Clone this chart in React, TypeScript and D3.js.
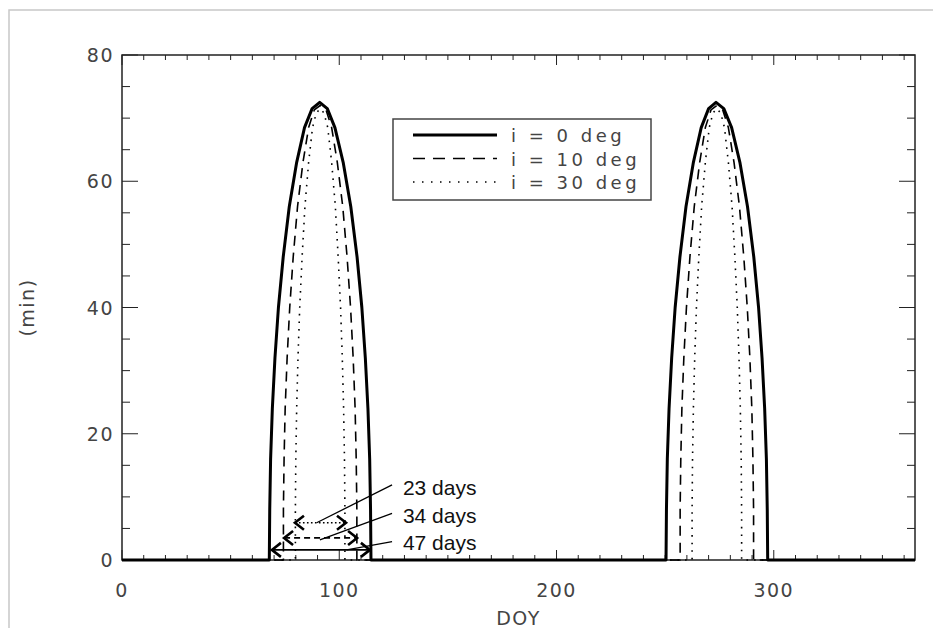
import React from 'react';
import * as d3 from 'd3';

// eclipse duration (min) vs day of year
const solid0: [number, number][] = [
  [0, 0], [67.8, 0], [68, 8], [68.4, 16], [69.2, 24], [70.4, 32], [72, 40], [74.2, 48], [77, 56],
  [80.4, 63], [84, 68.5], [87.5, 71.5], [91, 72.5], [94.5, 71.5], [98, 68.5], [101.8, 63],
  [105.3, 56], [108.2, 48], [110.4, 40], [112, 32], [113.2, 24], [114, 16], [114.4, 8], [114.6, 0],
  [250.4, 0], [250.6, 8], [251, 16], [251.8, 24], [253, 32], [254.6, 40], [256.8, 48], [259.6, 56],
  [263, 63], [266.6, 68.5], [270, 71.5], [273.4, 72.5], [277, 71.5], [280.6, 68.5], [284.4, 63],
  [287.9, 56], [290.8, 48], [293, 40], [294.6, 32], [295.8, 24], [296.6, 16], [297, 8], [297.2, 0],
  [365, 0],
];
const dashed10: [number, number][] = [
  [0, 0], [74.3, 0], [74.3, 8], [74.6, 16], [75.1, 24], [76, 32], [77.2, 40], [78.8, 48], [80.8, 56],
  [83.3, 63], [85.9, 68.5], [88.5, 71.3], [91.2, 72], [93.9, 71.3], [96.5, 68.5], [99.1, 63],
  [101.6, 56], [103.6, 48], [105.2, 40], [106.4, 32], [107.3, 24], [107.8, 16], [108.1, 8], [108.1, 0],
  [256.9, 0], [256.9, 8], [257.2, 16], [257.7, 24], [258.6, 32], [259.8, 40], [261.4, 48], [263.4, 56],
  [265.9, 63], [268.5, 68.5], [271.1, 71.3], [273.8, 72], [276.5, 71.3], [279.1, 68.5], [281.7, 63],
  [284.2, 56], [286.2, 48], [287.8, 40], [289, 32], [289.9, 24], [290.4, 16], [290.7, 8], [290.7, 0],
  [365, 0],
];
const dotted30: [number, number][] = [
  [0, 0], [79.8, 0], [79.8, 8], [80, 16], [80.4, 24], [81, 32], [81.8, 40], [82.9, 48], [84.2, 56],
  [85.9, 63], [87.7, 68.5], [89.4, 70.8], [91.2, 71.5], [93, 70.8], [94.7, 68.5], [96.5, 63],
  [98.2, 56], [99.5, 48], [100.6, 40], [101.4, 32], [102, 24], [102.4, 16], [102.6, 8], [102.6, 0],
  [262.4, 0], [262.4, 8], [262.6, 16], [263, 24], [263.6, 32], [264.4, 40], [265.5, 48], [266.8, 56],
  [268.5, 63], [270.3, 68.5], [272, 70.8], [273.8, 71.5], [275.6, 70.8], [277.3, 68.5], [279.1, 63],
  [280.8, 56], [282.1, 48], [283.2, 40], [284, 32], [284.6, 24], [285, 16], [285.2, 8], [285.2, 0],
  [365, 0],
];

const legendLabels = ['i = 0 deg', 'i = 10 deg', 'i = 30 deg'];
const xTicks = [0, 100, 200, 300];
const yTicks = [0, 20, 40, 60, 80];

// width annotations: [from DOY, to DOY, at value]
const spans: [number, number, number][] = [
  [79.6, 103.1, 5.9],
  [74.6, 108.2, 3.5],
  [69, 114.1, 1.6],
];
const spanLabels = ['23 days', '34 days', '47 days'];
const labelPos: [number, number][] = [[129.3, 10.3], [129.3, 5.9], [129.3, 1.6]];
const leaderFrom: [number, number][] = [[124.3, 11.9], [124.3, 7.4], [124.3, 2.9]];
const leaderTo: [number, number][] = [[89.6, 5.9], [91.1, 3.2], [103.4, 1.6]];

const styles = [
  { width: 3, dash: undefined as string | undefined },
  { width: 1.6, dash: '10,7' },
  { width: 1.6, dash: '1.6,6' },
];

export default function App() {
  const W = 933, H = 628;
  const left = 122, right = 915, top = 55, bottom = 560;
  const x = d3.scaleLinear().domain([0, 365]).range([left, right]);
  const y = d3.scaleLinear().domain([0, 80]).range([bottom, top]);
  const line = d3.line<[number, number]>().x(d => x(d[0])).y(d => y(d[1]));
  const series = [solid0, dashed10, dotted30];

  const xMinor = d3.range(0, 366, 10);
  const yMinor = d3.range(0, 81, 5);
  const tickFont = { fontFamily: 'DejaVu Sans', fontSize: 19, fill: '#444', letterSpacing: 1.5 };

  const arrowHead = (px: number, py: number, dir: number) =>
    `M${px + dir * 9},${py - 7}L${px},${py}L${px + dir * 9},${py + 7}`;

  return (
    <div style={{ position: 'fixed', left: 0, top: 0 }}>
      <svg width={W} height={H} style={{ display: 'block', background: '#fff' }}>
        {/* frame of the scanned figure */}
        <path d={`M9,${H}V10H${W}`} fill="none" stroke="#c8c8c8" strokeWidth={1.5} />

        {/* minor ticks */}
        {xMinor.map(t => {
          const len = t % 100 === 0 ? 10 : 5;
          return (
            <g key={'xm' + t} stroke="#222" strokeWidth={1}>
              <line x1={x(t)} x2={x(t)} y1={bottom} y2={bottom - len} />
              <line x1={x(t)} x2={x(t)} y1={top} y2={top + len} />
            </g>
          );
        })}
        {yMinor.map(t => {
          const len = t % 20 === 0 ? 16 : 8;
          return (
            <g key={'ym' + t} stroke="#222" strokeWidth={1}>
              <line x1={left} x2={left + len} y1={y(t)} y2={y(t)} />
              <line x1={right} x2={right - len} y1={y(t)} y2={y(t)} />
            </g>
          );
        })}

        <rect x={left} y={top} width={right - left} height={bottom - top} fill="none" stroke="#222" strokeWidth={1.5} />

        {xTicks.map(t => (
          <text key={'xl' + t} x={x(t)} y={597} textAnchor="middle" {...tickFont}>{t}</text>
        ))}
        {yTicks.map(t => (
          <text key={'yl' + t} x={114} y={y(t) + 7} textAnchor="end" {...tickFont}>{t}</text>
        ))}
        <text x={(left + right) / 2} y={625} textAnchor="middle" {...tickFont}>DOY</text>
        <text transform={`translate(34,${(top + bottom) / 2}) rotate(-90)`} textAnchor="middle" {...tickFont}>(min)</text>

        {series.map((s, i) => (
          <path key={'s' + i} d={line(s) ?? ''} fill="none" stroke="#000"
            strokeWidth={styles[i].width} strokeDasharray={styles[i].dash} strokeLinejoin="round" />
        )).reverse()}

        {/* legend */}
        <rect x={393} y={119} width={258} height={81} fill="#fff" stroke="#444" strokeWidth={1.5} />
        {legendLabels.map((lab, i) => (
          <g key={'lg' + i}>
            <line x1={413} x2={497} y1={135 + i * 23.5} y2={135 + i * 23.5} stroke="#000"
              strokeWidth={i === 0 ? 3 : 1.4} strokeDasharray={i === 1 ? '12,8' : i === 2 ? '1.5,7.5' : undefined} />
            <text x={511} y={142 + i * 23.5} {...tickFont} fontSize={18} letterSpacing={3.5}>{lab}</text>
          </g>
        ))}

        {/* width annotations */}
        {spans.map(([a, b, v], i) => (
          <g key={'sp' + i} fill="none" stroke="#000">
            <line x1={x(a)} x2={x(b)} y1={y(v)} y2={y(v)} strokeWidth={i === 2 ? 1.8 : 1.6}
              strokeDasharray={i === 0 ? '1.6,2.4' : i === 1 ? '6,4' : undefined} />
            <path d={arrowHead(x(a), y(v), 1)} strokeWidth={2.6} />
            <path d={arrowHead(x(b), y(v), -1)} strokeWidth={2.6} />
            <line x1={x(leaderFrom[i][0])} y1={y(leaderFrom[i][1])} x2={x(leaderTo[i][0])} y2={y(leaderTo[i][1])}
              strokeWidth={1.3} />
          </g>
        ))}
        {spanLabels.map((lab, i) => (
          <text key={'sl' + i} x={x(labelPos[i][0])} y={y(labelPos[i][1])}
            fontFamily="Liberation Sans, Arial" fontSize={21} fill="#111">{lab}</text>
        ))}
      </svg>
    </div>
  );
}
